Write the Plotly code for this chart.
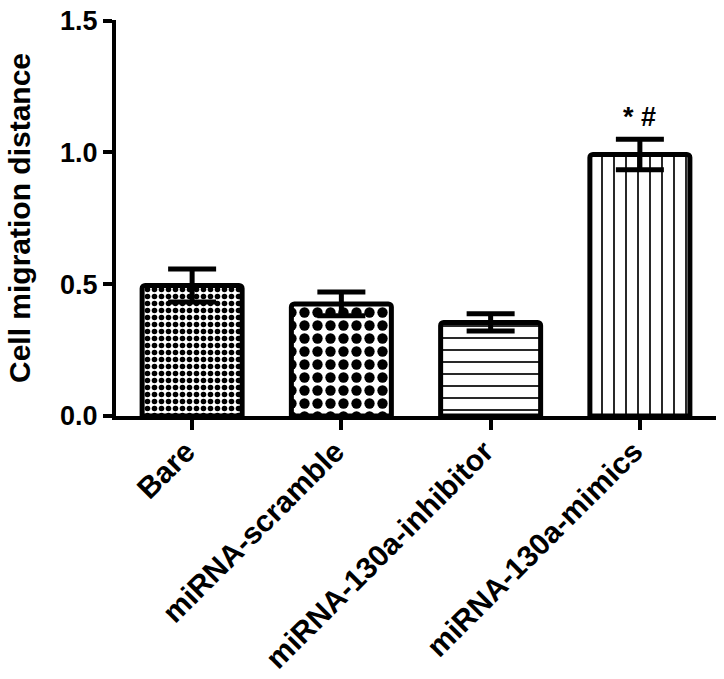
import plotly.graph_objects as go

# values
groups = ["Bare", "miRNA-scramble", "miRNA-130a-inhibitor", "miRNA-130a-mimics"]
means = [0.495, 0.425, 0.355, 0.992]
errors = [0.063, 0.045, 0.033, 0.058]
marks = ["", "", "", "* #"]
y_ticks = [0.0, 0.5, 1.0, 1.5]

# one fill pattern per group (fine checks, coarse checks, horizontal, vertical)
pat_shapes = [".", ".", "-", "|"]
pat_sizes = [7, 13, 12, 12]
pat_solid = [0.5, 0.5, 0.14, 0.14]

font_fam = "Liberation Sans, Arial, sans-serif"

fig = go.Figure()
fig.add_trace(go.Bar(
    x=groups,
    y=means,
    width=0.67,
    marker=dict(
        color="white",
        line=dict(color="black", width=5),
        pattern=dict(shape=pat_shapes, size=pat_sizes, solidity=pat_solid,
                     fgcolor="black", bgcolor="white", fillmode="replace"),
        cornerradius=3,
    ),
    error_y=dict(type="data", array=errors, visible=True,
                 color="black", thickness=5, width=24),
    showlegend=False,
))

for g, m, e, t in zip(groups, means, errors, marks):
    if t:
        fig.add_annotation(x=g, y=m + e, text="<b>" + t + "</b>", showarrow=False,
                           yanchor="bottom", yshift=5,
                           font=dict(family=font_fam, size=27, color="black"))

fig.update_layout(
    width=724, height=679,
    margin=dict(l=116, r=8, t=20, b=263),
    plot_bgcolor="white", paper_bgcolor="white",
    font=dict(family=font_fam, size=27, color="black", weight="bold"),
    xaxis=dict(
        range=[-0.51, 3.51], automargin=False,
        showline=True, linecolor="black", linewidth=4,
        ticks="outside", ticklen=10, tickwidth=4, tickcolor="black",
        tickangle=-45, ticklabelstandoff=-8, ticklabelshift=-6,
        tickfont=dict(family=font_fam, size=30, color="black", weight="bold"),
        showgrid=False, zeroline=False,
    ),
    yaxis=dict(
        range=[0, 1.502], automargin=False,
        tickvals=y_ticks, tickformat=".1f", ticklabeloverflow="allow",
        showline=True, linecolor="black", linewidth=4,
        ticks="outside", ticklen=9, tickwidth=4, tickcolor="black",
        tickfont=dict(family=font_fam, size=27, color="black", weight="bold"),
        showgrid=False, zeroline=False,
        title=dict(text="Cell migration distance", standoff=22,
                   font=dict(family=font_fam, size=30, color="black", weight="bold")),
    ),
)

# drop the default body margin so the figure fills the window
fig.write_html("out.html", config={"displayModeBar": False},
               post_script="document.body.style.margin='0';")
